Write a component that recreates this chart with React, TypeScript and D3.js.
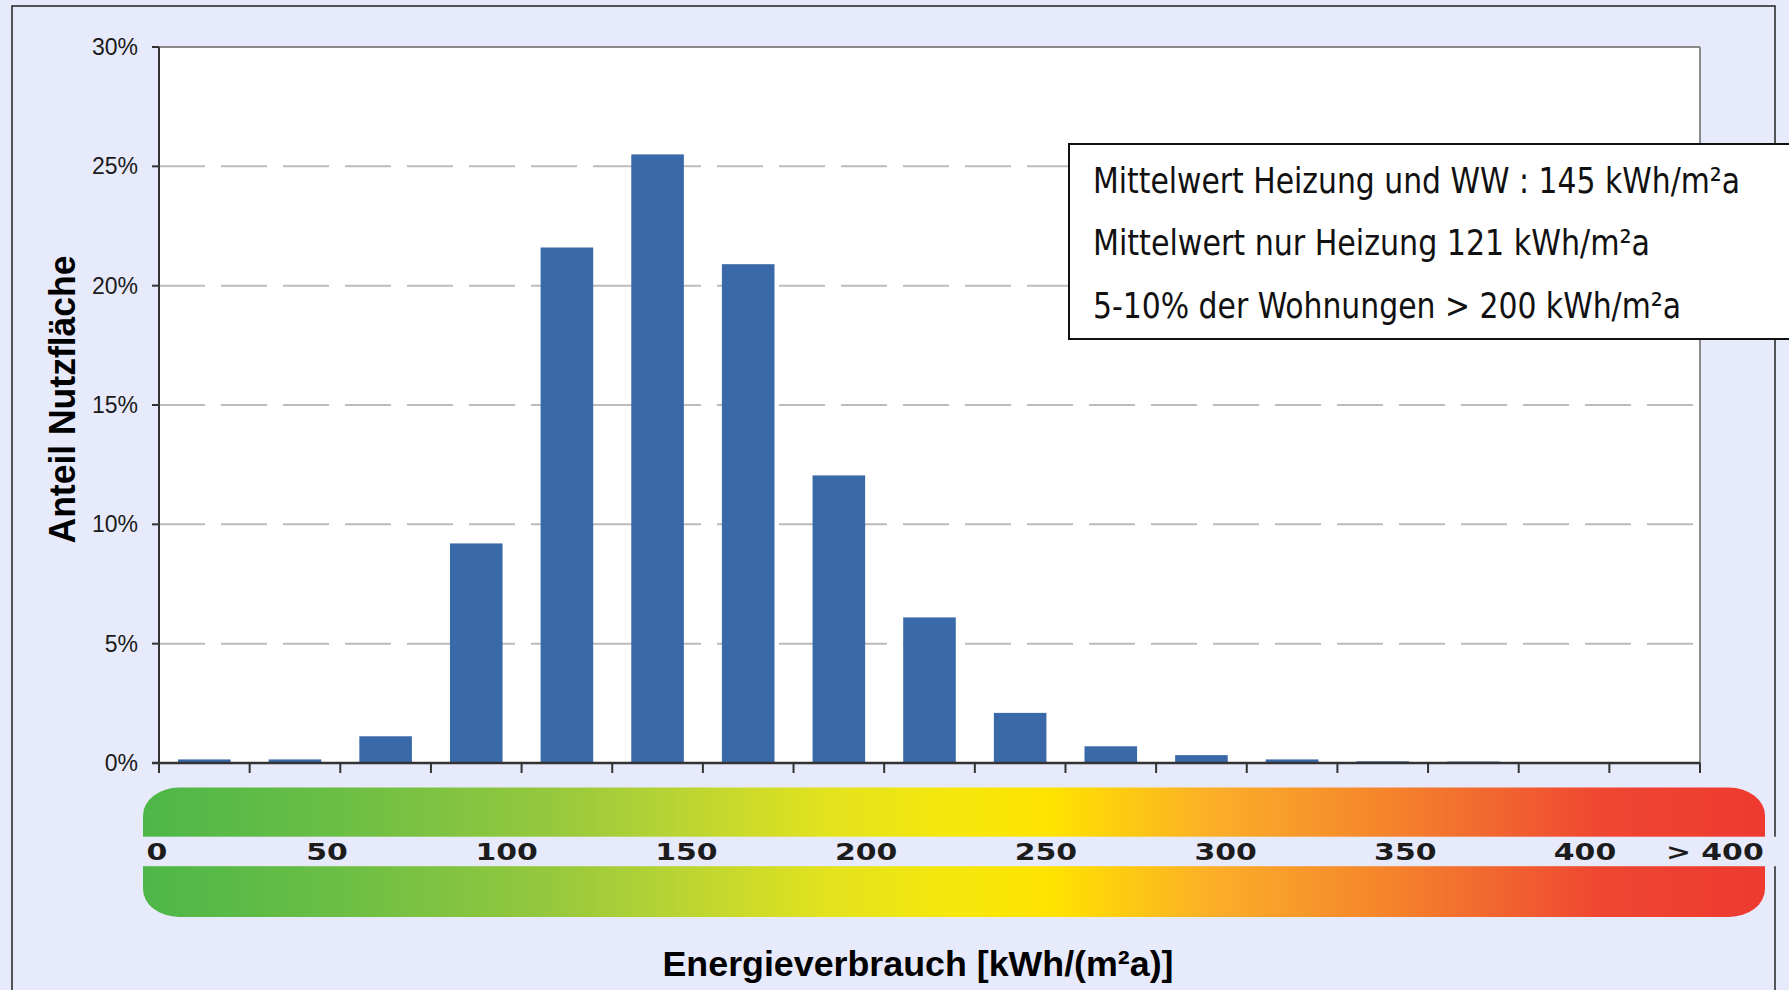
import React from "react";
import * as d3 from "d3";

// ---- data ----
const categories = [
  "0-25", "25-50", "50-75", "75-100", "100-125", "125-150", "150-175", "175-200",
  "200-225", "225-250", "250-275", "275-300", "300-325", "325-350", "350-375", "375-400", ">400",
];
const shares = [0.15, 0.15, 1.12, 9.2, 21.6, 25.5, 20.9, 12.05, 6.1, 2.1, 0.7, 0.33, 0.15, 0.07, 0.06, 0, 0];
const yTicks = [0, 5, 10, 15, 20, 25, 30];
const scaleLabels = ["0", "50", "100", "150", "200", "250", "300", "350", "400", "> 400"];
const scaleLabelValues = [0, 50, 100, 150, 200, 250, 300, 350, 400, 450];
const noteLines = [
  "Mittelwert Heizung und WW : 145 kWh/m²a",
  "Mittelwert nur Heizung 121 kWh/m²a",
  "5-10% der Wohnungen > 200 kWh/m²a",
];
const gradientStops: [number, string][] = [
  [0, "#4DB748"],
  [0.12, "#6BBE45"],
  [0.25, "#95C83D"],
  [0.33, "#B9D433"],
  [0.42, "#E2E21E"],
  [0.5, "#F6E80C"],
  [0.56, "#FFE300"],
  [0.61, "#FDC813"],
  [0.66, "#FBAE29"],
  [0.75, "#F68B2B"],
  [0.82, "#F26C2F"],
  [0.9, "#EF4631"],
  [1, "#EE3A30"],
];

const W = 1789;
const H = 990;
const BG = "#E7EAFB";
const plot = { left: 159, right: 1700, top: 47, bottom: 763 };

export default function App() {
  const x = d3
    .scaleBand<number>()
    .domain(d3.range(categories.length))
    .range([plot.left, plot.right])
    .paddingInner(0.42)
    .paddingOuter(0.21);
  const y = d3.scaleLinear().domain([0, 30]).range([plot.bottom, plot.top]);
  const step = (plot.right - plot.left) / categories.length;
  const boundaries = d3.range(categories.length + 1).map((i) => plot.left + i * step);
  const lin = d3.scaleLinear().domain([50, 400]).range([327, 1585]);

  const noteLens = [647, 557, 588];

  return (
    <div style={{ position: "absolute", left: 0, top: 0 }}>
      <svg width={W} height={H} style={{ display: "block" }}>
        <defs>
          <linearGradient id="energy" x1="0" x2="1" y1="0" y2="0">
            {gradientStops.map(([o, c], i) => (
              <stop key={i} offset={o} stopColor={c} />
            ))}
          </linearGradient>
        </defs>
        <rect x={0} y={0} width={W} height={H} fill={BG} />
        <rect x={12} y={6} width={1763} height={1010} fill={BG} stroke="#222" strokeWidth={1.5} />

        {/* plot area */}
        <rect x={plot.left} y={plot.top} width={plot.right - plot.left} height={plot.bottom - plot.top} fill="#fff" />
        {yTicks
          .filter((t) => t > 0 && t < 30)
          .map((t) => (
            <line
              key={t}
              x1={plot.left}
              x2={plot.right}
              y1={y(t)}
              y2={y(t)}
              stroke="#BBBBBB"
              strokeWidth={2}
              strokeDasharray="46 16"
            />
          ))}
        <line x1={plot.left} x2={plot.right} y1={plot.top} y2={plot.top} stroke="#8A8A8A" strokeWidth={2} />
        <line x1={plot.right} x2={plot.right} y1={plot.top} y2={plot.bottom} stroke="#8A8A8A" strokeWidth={2} />

        {shares.map((v, i) => (
          <rect
            key={i}
            x={x(i)}
            y={y(v)}
            width={x.bandwidth()}
            height={plot.bottom - y(v)}
            fill="#3A69A9"
          />
        ))}

        {/* axes */}
        <line x1={plot.left} x2={plot.left} y1={plot.top} y2={plot.bottom} stroke="#333" strokeWidth={2} />
        <line x1={plot.left - 7} x2={plot.right} y1={plot.bottom} y2={plot.bottom} stroke="#333" strokeWidth={2.5} />
        {yTicks.map((t) => (
          <g key={t}>
            <line x1={plot.left - 7} x2={plot.left} y1={y(t)} y2={y(t)} stroke="#333" strokeWidth={2} />
            <text
              x={138}
              y={y(t) + 8}
              textAnchor="end"
              fontFamily="'Liberation Sans', Arial, sans-serif"
              fontSize={23}
              fill="#1a1a1a"
            >
              {t}%
            </text>
          </g>
        ))}
        {boundaries.map((bx, i) => (
          <line key={i} x1={bx} x2={bx} y1={plot.bottom} y2={plot.bottom + 10} stroke="#333" strokeWidth={2} />
        ))}

        {/* colour scale */}
        <rect x={143} y={787.5} width={1622} height={129.5} rx={36} ry={28} fill="url(#energy)" />
        <rect x={130} y={836.7} width={1650} height={29.5} fill={BG} />
        {scaleLabels.map((lab, i) => {
          const v = scaleLabelValues[i];
          let px = lin(v);
          let anchor: "start" | "middle" | "end" = "middle";
          if (i === 0) {
            px = 146.5;
            anchor = "start";
          } else if (i === scaleLabels.length - 1) {
            px = lin(v) - 1;
            anchor = "end";
          }
          return (
            <g key={lab} transform={`translate(${px},860) scale(1.3,1)`}>
              <text
                x={0}
                y={0}
                textAnchor={anchor}
                fontFamily="'DejaVu Sans', Verdana, sans-serif"
                fontWeight="bold"
                fontSize={23}
                fill="#1c1c1c"
                style={{ whiteSpace: "pre" }}
              >
                {lab}
              </text>
            </g>
          );
        })}

        {/* axis titles */}
        <text
          x={918}
          y={976}
          textAnchor="middle"
          fontFamily="'Liberation Sans', Arial, sans-serif"
          fontWeight="bold"
          fontSize={35}
          textLength={511}
          lengthAdjust="spacingAndGlyphs"
          fill="#000"
        >
          Energieverbrauch [kWh/(m²a)]
        </text>
        <text
          transform="translate(75,399.5) rotate(-90)"
          textAnchor="middle"
          fontFamily="'Liberation Sans', Arial, sans-serif"
          fontWeight="bold"
          fontSize={36}
          textLength={288}
          lengthAdjust="spacingAndGlyphs"
          fill="#000"
        >
          Anteil Nutzfläche
        </text>

        {/* note box */}
        <rect x={1069} y={144} width={760} height={195} fill="#fff" stroke="#111" strokeWidth={2} />
        {noteLines.map((line, i) => (
          <text
            key={i}
            x={1093}
            y={192.5 + i * 62.7}
            fontFamily="'DejaVu Sans Condensed', 'DejaVu Sans', sans-serif"
            fontStretch="condensed"
            fontSize={35}
            textLength={noteLens[i]}
            lengthAdjust="spacingAndGlyphs"
            fill="#111"
          >
            {line}
          </text>
        ))}
      </svg>
    </div>
  );
}
